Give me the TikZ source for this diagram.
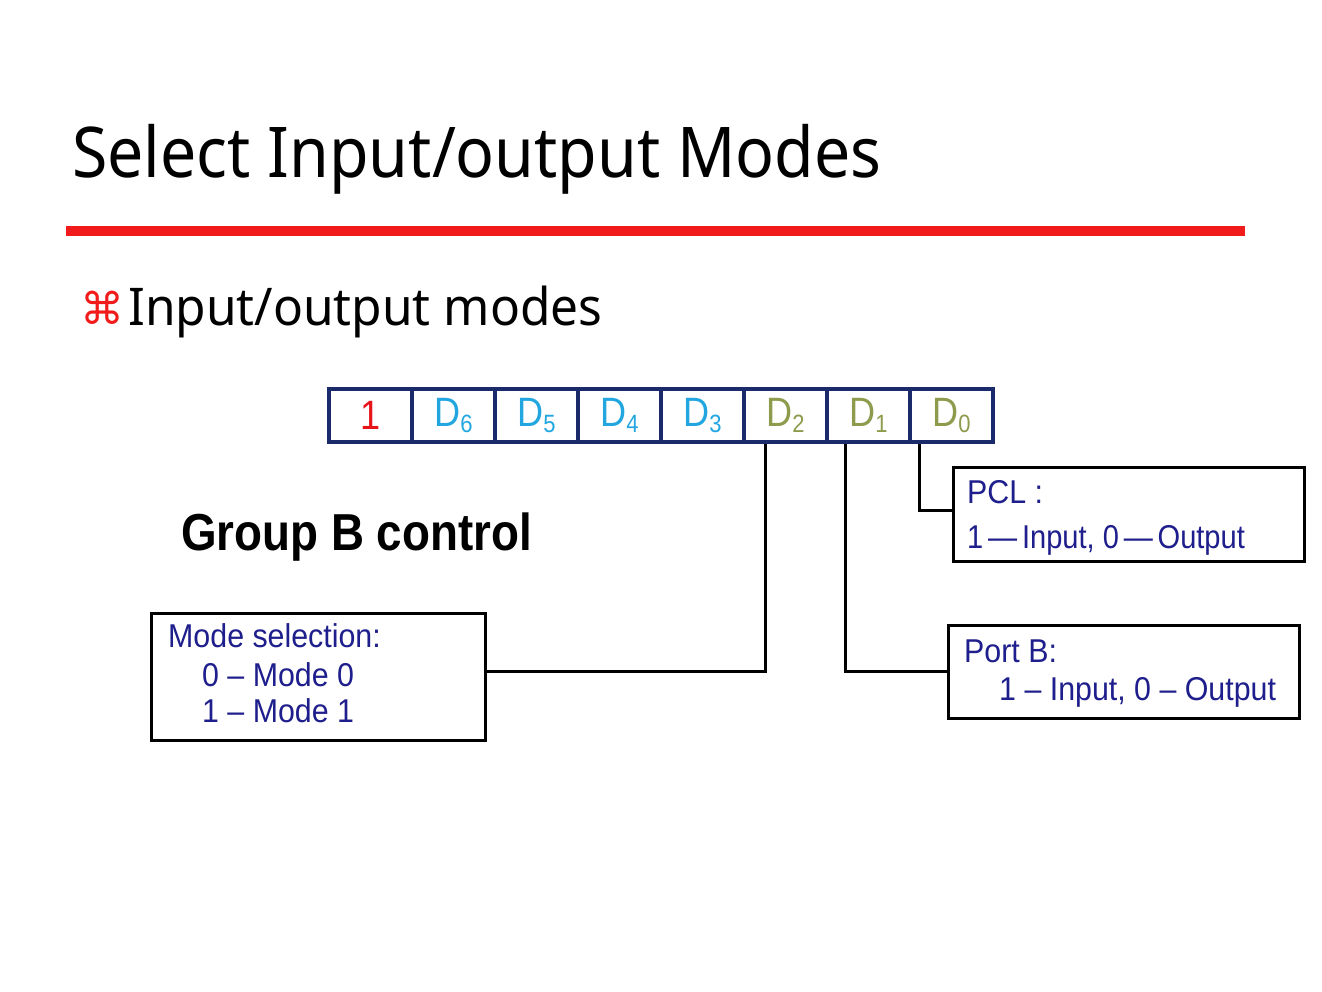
\documentclass[tikz,border=0pt]{standalone}
\usepackage{fontspec}
\usepackage{graphicx}
\setmainfont{Noto Sans}
\newfontfamily\boxfont{Liberation Sans}
\newfontfamily\symfont{DejaVu Sans}
\definecolor{rulered}{HTML}{F21B1B}
\definecolor{regnavy}{HTML}{1B2A6B}
\definecolor{bitred}{HTML}{E8141C}
\definecolor{bitcyan}{HTML}{22A6E0}
\definecolor{bitolive}{HTML}{8C9B4C}
\definecolor{boxtext}{HTML}{1E1E8C}
% horizontally condensed text
\newcommand{\narrow}[1]{\scalebox{0.92}[1]{#1}}
\newcommand{\cellnarrow}[1]{\scalebox{0.88}[1]{#1}}
\newcommand{\dbit}[1]{\cellnarrow{D}\raisebox{-0.28ex}{\fontsize{25}{25}\selectfont\cellnarrow{#1}}}
\tikzset{
  bitcell/.style={draw=regnavy, line width=3.5pt, minimum width=83pt, minimum height=53pt,
    inner sep=0pt, font=\boxfont\fontsize{41}{41}\selectfont},
  infobox/.style={draw=black, line width=3pt, inner sep=0pt},
  boxlabel/.style={anchor=base west, inner sep=0pt, text=boxtext,
    font=\boxfont\fontsize{33}{33}\selectfont},
  wire/.style={draw=black, line width=3pt},
}
\begin{document}
\begin{tikzpicture}[x=1pt,y=-1pt]
\useasboundingbox[fill=white] (0,0) rectangle (1322,991);

% heading and rule
\node[anchor=base west, inner sep=0pt, font=\fontsize{70}{70}\selectfont] (title) at (72,177) {\scalebox{0.92}[1]{Select Input/output Modes}};
\fill[rulered] (66,226) rectangle (1245,236);

% bullet line
\node[anchor=base west, inner sep=0pt, text=rulered, font=\symfont\fontsize{44}{44}\selectfont] (bullet) at (80,324) {⌘};
\node[anchor=base west, inner sep=0pt, font=\fontsize{52}{52}\selectfont] (sub) at (128,325) {\scalebox{0.954}[1]{Input/output modes}};

% control word bits
\node[bitcell, text=bitred]   (b7) at (370.5,415.5) {\cellnarrow{1}};
\node[bitcell, text=bitcyan]  (b6) at (453.5,415.5) {\dbit{6}};
\node[bitcell, text=bitcyan]  (b5) at (536.5,415.5) {\dbit{5}};
\node[bitcell, text=bitcyan]  (b4) at (619.5,415.5) {\dbit{4}};
\node[bitcell, text=bitcyan]  (b3) at (702.5,415.5) {\dbit{3}};
\node[bitcell, text=bitolive] (b2) at (785.5,415.5) {\dbit{2}};
\node[bitcell, text=bitolive] (b1) at (868.5,415.5) {\dbit{1}};
\node[bitcell, text=bitolive] (b0) at (951.5,415.5) {\dbit{0}};

% group label
\node[anchor=base west, inner sep=0pt, font=\boxfont\bfseries\fontsize{52}{52}\selectfont] (grp) at (181,550) {\scalebox{0.88}[1]{Group B control}};

% description boxes
\node[infobox, minimum width=351pt, minimum height=94pt] (pcl) at (1128.5,514) {};
\node[infobox, minimum width=351pt, minimum height=93pt] (portb) at (1123.5,671.5) {};
\node[infobox, minimum width=334pt, minimum height=127pt] (mode) at (318,676.5) {};

\node[boxlabel] (pclA) at (967,503) {\narrow{PCL :}};
\node[boxlabel] (pclB) at (967,548) {\scalebox{0.88}[1]{1\,—\,Input, 0\,—\,Output}};
\node[boxlabel] (pbA) at (964,662) {\narrow{Port B:}};
\node[boxlabel] (pbB) at (999,700) {\narrow{1 – Input, 0 – Output}};
\node[boxlabel] (mdA) at (168,647) {\narrow{Mode selection:}};
\node[boxlabel] (mdB) at (202,686) {\narrow{0 – Mode 0}};
\node[boxlabel] (mdC) at (202,722) {\narrow{1 – Mode 1}};

% connectors
\draw[wire] ([xshift=-20.5pt]b2.south) |- ([yshift=5.5pt]mode.east);
\draw[wire] ([xshift=-23.5pt]b1.south) |- (portb.west);
\draw[wire] ([xshift=-32.5pt]b0.south) |- ([yshift=4pt]pcl.west);
\end{tikzpicture}
\end{document}
